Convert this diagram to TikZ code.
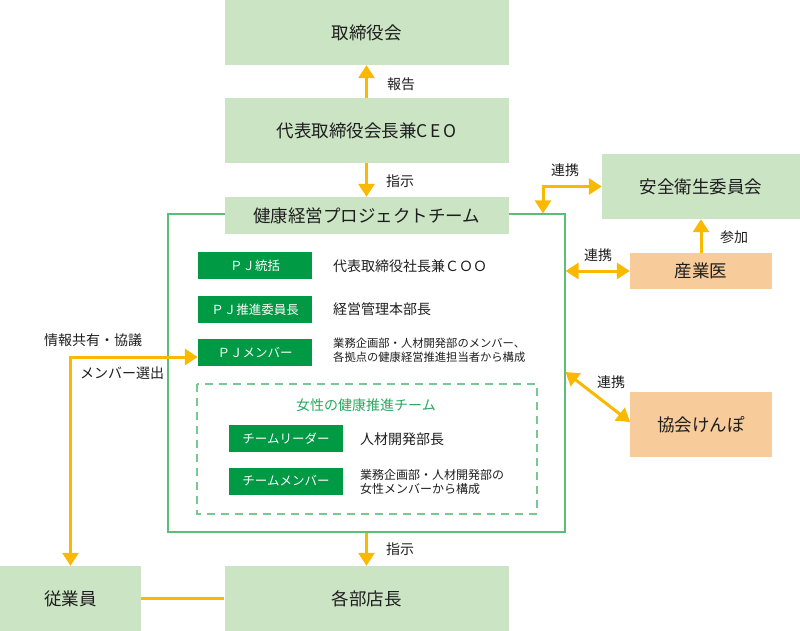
\documentclass[tikz,border=0pt]{standalone}
\usepackage{fontspec}
\setmainfont{Noto Sans CJK JP}
\usetikzlibrary{arrows.meta}
\definecolor{boxgreen}{RGB}{203,228,196}
\definecolor{peach}{RGB}{248,203,155}
\definecolor{dkgreen}{RGB}{0,153,68}
\definecolor{ayellow}{RGB}{248,185,0}
\definecolor{framegreen}{RGB}{90,190,120}
\definecolor{dashgreen}{RGB}{120,200,145}
\definecolor{txt}{RGB}{30,30,30}
\tikzset{
  lgbox/.style={fill=boxgreen, inner sep=0pt, minimum width=284pt, minimum height=65pt, text=txt, font=\fontsize{17.5}{19}\selectfont},
  pchbox/.style={fill=peach, inner sep=0pt, minimum width=142pt, text=txt, font=\fontsize{17.5}{19}\selectfont},
  dgbox/.style={fill=dkgreen, inner sep=0pt, minimum width=114pt, minimum height=27pt, text=white, font=\fontsize{12.5}{14}\selectfont},
  desc/.style={anchor=west, inner sep=0pt, text=txt, font=\fontsize{14}{16}\selectfont},
  descs/.style={anchor=west, inner sep=0pt, text=txt, align=left, font=\fontsize{11.3}{14}\selectfont},
  lbl/.style={inner sep=0pt, text=txt, font=\fontsize{14}{16}\selectfont},
  yline/.style={draw=ayellow, line width=3pt},
  yarr/.style={yline, -{Triangle[length=13pt,width=16pt]}},
  ydbl/.style={yline, {Triangle[length=13pt,width=16pt]}-{Triangle[length=13pt,width=16pt]}},
}
\begin{document}
\begin{tikzpicture}[x=1pt,y=-1pt]
\useasboundingbox (0,0) rectangle (800,631);
% outer frame
\node[draw=framegreen, line width=1.2pt, inner sep=0pt, minimum width=397pt, minimum height=318pt] (frame) at (366.5,373) {};
% main boxes
\node[lgbox] (board) at (366.5,32.5) {取締役会};
\node[lgbox] (ceo) at (366.5,130.5) {代表取締役会長兼C\kern2.5pt E\kern2.5pt O};
\node[lgbox, minimum height=37pt] (pj) at (366.5,215.5) {健康経営プロジェクトチーム};
\node[lgbox] (bucho) at (366.5,598.5) {各部店長};
\node[lgbox, minimum width=141pt] (emp) at (70.5,598.5) {従業員};
\node[lgbox, minimum width=198pt] (anzen) at (701,186.5) {安全衛生委員会};
\node[pchbox, minimum height=36pt] (doc) at (701,271) {産業医};
\node[pchbox, minimum height=65pt] (kenpo) at (701,424.5) {協会けんぽ};
% inside PJ
\node[dgbox] (pj1) at (255,265.5) {ＰＪ統括};
\node[dgbox] (pj2) at (255,309.5) {ＰＪ推進委員長};
\node[dgbox] (pj3) at (255,352.5) {ＰＪメンバー};
\node[desc] (d1) at (333,266) {代表取締役社長兼ＣＯＯ};
\node[desc] (d2) at (333,309) {経営管理本部長};
\node[descs] (d3) at (333,350) {業務企画部・人材開発部のメンバー、\\各拠点の健康経営推進担当者から構成};
% women's team
\draw[dashgreen, line width=1.2pt, dash pattern=on 8pt off 6pt] (197,384) rectangle (537,514);
\node[inner sep=0pt, text=dkgreen!85!white, font=\fontsize{14}{16}\selectfont] (wt) at (366,405) {女性の健康推進チーム};
\node[dgbox] (w1) at (286,438.5) {チームリーダー};
\node[dgbox] (w2) at (286,481) {チームメンバー};
\node[desc] (d4) at (360,439) {人材開発部長};
\node[descs, font=\fontsize{12}{14}\selectfont] (d5) at (360,481.5) {業務企画部・人材開発部の\\女性メンバーから構成};
% arrows
\draw[yarr] (ceo.north) -- (board.south);
\node[lbl] at (401,84) {報告};
\draw[yarr] (ceo.south) -- (pj.north);
\node[lbl] at (400,181) {指示};
\draw[yarr] (frame.south) -- (bucho.north);
\node[lbl] at (400,549) {指示};
\draw[yline] (emp.east) -- (bucho.west);
\coordinate (lc) at (70.5,357);
\draw[ydbl] (emp.north) -- (lc) -- (lc -| pj3.west);
\node[lbl] at (93,340) {情報共有・協議};
\node[lbl] at (122,373) {メンバー選出};
\coordinate (tc) at (543,186.5);
\draw[ydbl] (tc |- frame.north) -- (tc) -- (anzen.west);
\node[lbl] at (565,170) {連携};
\draw[yarr] (doc.north) -- (anzen.south);
\node[lbl] at (734,237) {参加};
\draw[ydbl] (frame.east |- doc.west) -- (doc.west);
\node[lbl] at (598,255) {連携};
\coordinate (kc) at (565.5,372);
\draw[ydbl] (kc) -- (630,422);
\node[lbl] at (611,382) {連携};
\end{tikzpicture}
\end{document}
